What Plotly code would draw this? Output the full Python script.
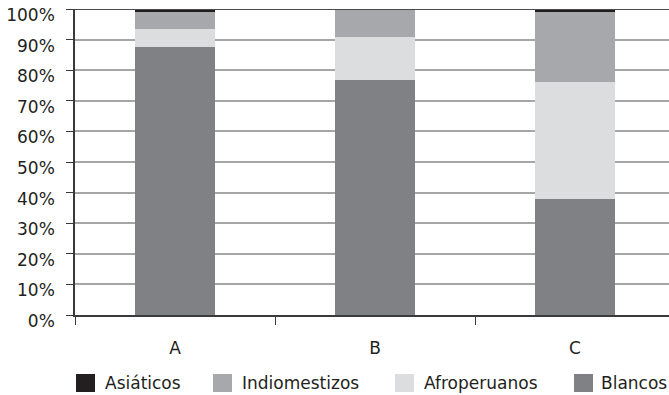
import plotly.graph_objects as go

# Composition (%) of each group
categories = ["A", "B", "C"]
blancos = [87.6, 76.8, 37.9]
afroperuanos = [5.9, 14.2, 38.2]
indiomestizos = [5.6, 9.0, 23.0]
asiaticos = [0.9, 0.0, 0.9]

y_ticks = list(range(0, 101, 10))
y_tick_labels = [f"{v}%" for v in y_ticks]

series = [
    ("Blancos", blancos, "#808184"),
    ("Afroperuanos", afroperuanos, "#dcdddf"),
    ("Indiomestizos", indiomestizos, "#a7a8ab"),
    ("Asiáticos", asiaticos, "#231f20"),
]

text_color = "#231f20"
font_family = "DejaVu Sans"

fig = go.Figure()
for name, vals, color in series:
    fig.add_trace(go.Bar(
        x=categories, y=vals, name=name,
        marker=dict(color=color, line=dict(width=0)),
        showlegend=False,
    ))

fig.update_layout(
    width=669, height=395,
    margin=dict(l=75, r=0, t=9, b=80),
    barmode="stack",
    bargap=0.6,
    plot_bgcolor="white",
    paper_bgcolor="white",
    font=dict(family=font_family, size=17, color=text_color),
    showlegend=False,
)

fig.update_xaxes(
    type="category",
    range=[-0.5, 2.47],
    showgrid=False,
    showline=True, linecolor="#3a3a3a", linewidth=1.5,
    ticks="outside", ticklen=8, tickcolor="#3a3a3a", tickwidth=1.2,
    tickson="boundaries",
    tickfont=dict(size=17, color=text_color),
    ticklabelstandoff=17,
)

fig.update_yaxes(
    range=[0, 100],
    tickvals=y_ticks, ticktext=y_tick_labels,
    showgrid=True, gridcolor="#a6a6a6", gridwidth=1.5,
    showline=True, linecolor="#3a3a3a", linewidth=1.5,
    ticks="outside", ticklen=7, tickcolor="#3a3a3a", tickwidth=1.2,
    tickfont=dict(size=17, color=text_color),
    ticklabelposition="outside",
    ticklabelshift=6,
    ticklabelstandoff=8,
    zeroline=False,
)

# darker rule across the top of the plot
fig.add_shape(type="line", xref="paper", yref="y", x0=0, x1=1, y0=100, y1=100,
              line=dict(color="#4a4a4a", width=2))

# legend row: swatch + label, left to right
plot_w, plot_h = 594.0, 306.0
legend_items = [("Asiáticos", "#231f20", 76, 103),
                ("Indiomestizos", "#a7a8ab", 213, 240),
                ("Afroperuanos", "#dcdddf", 395, 422),
                ("Blancos", "#808184", 574, 599)]
sw_top, sw_bot, label_mid = 374, 392, 383
for label, color, sx, tx in legend_items:
    fig.add_shape(type="rect", xref="paper", yref="paper",
                  x0=(sx - 75) / plot_w, x1=(sx + 19 - 75) / plot_w,
                  y0=(315 - sw_bot) / plot_h, y1=(315 - sw_top) / plot_h,
                  line=dict(width=0), fillcolor=color)
    fig.add_annotation(xref="paper", yref="paper",
                       x=(tx - 75) / plot_w, y=(315 - label_mid) / plot_h,
                       xanchor="left", yanchor="middle", showarrow=False,
                       text=label, font=dict(size=17, color=text_color))

fig.write_html("out.html")
